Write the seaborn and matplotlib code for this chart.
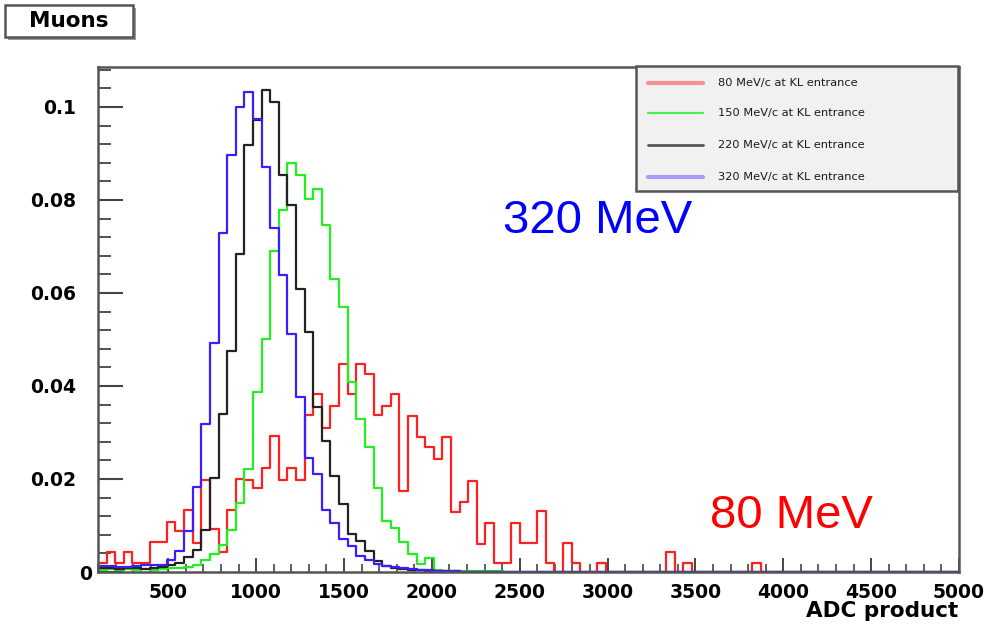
import numpy as np
import pandas as pd
import matplotlib
matplotlib.use("Agg")
import matplotlib.pyplot as plt
import seaborn as sns
from matplotlib.lines import Line2D
from matplotlib.patches import Rectangle
from matplotlib.ticker import MultipleLocator

# Binning of the ADC-product histograms: 100 bins from 100 to 5000
x_min, x_max, n_bins = 100, 5000, 100

# Normalised muon ADC-product distributions (bin contents, left to right)
mu_80 = [
    0.0019, 0.0042, 0.0019, 0.0042, 0.0019, 0.0019, 0.0065, 0.0065, 0.0108, 0.0088,
    0.0133, 0.0062, 0.0198, 0.0092, 0.0044, 0.0133, 0.0200, 0.0198, 0.0180, 0.0223,
    0.0292, 0.0198, 0.0224, 0.0198, 0.0338, 0.0382, 0.0309, 0.0358, 0.0448, 0.0383,
    0.0448, 0.0426, 0.0338, 0.0358, 0.0383, 0.0175, 0.0336, 0.0290, 0.0268, 0.0243,
    0.0290, 0.0130, 0.0150, 0.0196, 0.0060, 0.0106, 0.0019, 0.0019, 0.0106, 0.0063,
    0.0063, 0.0131, 0.0019, 0.0000, 0.0063, 0.0019, 0.0000, 0.0000, 0.0019, 0.0000,
    0.0000, 0.0000, 0.0000, 0.0000, 0.0000, 0.0000, 0.0042, 0.0000, 0.0019, 0.0000,
    0.0000, 0.0000, 0.0000, 0.0000, 0.0000, 0.0000, 0.0019, 0.0000, 0.0000, 0.0000,
    0.0000, 0.0000, 0.0000, 0.0000, 0.0000, 0.0000, 0.0000, 0.0000, 0.0000, 0.0000,
    0.0000, 0.0000, 0.0000, 0.0000, 0.0000, 0.0000, 0.0000, 0.0000, 0.0000, 0.0000,
]
mu_150 = [
    0.0004, 0.0006, 0.0005, 0.0006, 0.0004, 0.0006, 0.0005, 0.0006, 0.0008, 0.0009,
    0.0011, 0.0015, 0.0026, 0.0039, 0.0058, 0.0090, 0.0148, 0.0221, 0.0388, 0.0500,
    0.0690, 0.0778, 0.0879, 0.0853, 0.0803, 0.0823, 0.0746, 0.0631, 0.0570, 0.0408,
    0.0329, 0.0268, 0.0180, 0.0110, 0.0094, 0.0065, 0.0038, 0.0017, 0.0031, 0.0004,
    0.0003, 0.0003, 0.0002, 0.0003, 0.0002, 0.0002, 0.0002, 0.0001, 0.0001, 0.0001,
    0.0000, 0.0000, 0.0000, 0.0000, 0.0000, 0.0000, 0.0000, 0.0000, 0.0000, 0.0000,
    0.0000, 0.0000, 0.0000, 0.0000, 0.0000, 0.0000, 0.0000, 0.0000, 0.0000, 0.0000,
    0.0000, 0.0000, 0.0000, 0.0000, 0.0000, 0.0000, 0.0000, 0.0000, 0.0000, 0.0000,
    0.0000, 0.0000, 0.0000, 0.0000, 0.0000, 0.0000, 0.0000, 0.0000, 0.0000, 0.0000,
    0.0000, 0.0000, 0.0000, 0.0000, 0.0000, 0.0000, 0.0000, 0.0000, 0.0000, 0.0000,
]
mu_220 = [
    0.0008, 0.0008, 0.0006, 0.0008, 0.0008, 0.0006, 0.0008, 0.0010, 0.0014, 0.0020,
    0.0032, 0.0048, 0.0090, 0.0203, 0.0340, 0.0476, 0.0683, 0.0918, 0.0972, 0.1037,
    0.1011, 0.0853, 0.0789, 0.0609, 0.0517, 0.0354, 0.0282, 0.0207, 0.0146, 0.0081,
    0.0067, 0.0045, 0.0024, 0.0013, 0.0008, 0.0006, 0.0005, 0.0004, 0.0003, 0.0003,
    0.0002, 0.0002, 0.0001, 0.0001, 0.0000, 0.0000, 0.0000, 0.0000, 0.0000, 0.0000,
    0.0000, 0.0000, 0.0000, 0.0000, 0.0000, 0.0000, 0.0000, 0.0000, 0.0000, 0.0000,
    0.0000, 0.0000, 0.0000, 0.0000, 0.0000, 0.0000, 0.0000, 0.0000, 0.0000, 0.0000,
    0.0000, 0.0000, 0.0000, 0.0000, 0.0000, 0.0000, 0.0000, 0.0000, 0.0000, 0.0000,
    0.0000, 0.0000, 0.0000, 0.0000, 0.0000, 0.0000, 0.0000, 0.0000, 0.0000, 0.0000,
    0.0000, 0.0000, 0.0000, 0.0000, 0.0000, 0.0000, 0.0000, 0.0000, 0.0000, 0.0000,
]
mu_320 = [
    0.0012, 0.0012, 0.0010, 0.0010, 0.0012, 0.0014, 0.0014, 0.0016, 0.0025, 0.0045,
    0.0088, 0.0183, 0.0318, 0.0492, 0.0728, 0.0897, 0.1000, 0.1033, 0.0975, 0.0871,
    0.0739, 0.0638, 0.0512, 0.0376, 0.0245, 0.0210, 0.0133, 0.0105, 0.0072, 0.0056,
    0.0034, 0.0026, 0.0017, 0.0012, 0.0010, 0.0008, 0.0006, 0.0005, 0.0004, 0.0003,
    0.0002, 0.0002, 0.0001, 0.0001, 0.0000, 0.0000, 0.0000, 0.0000, 0.0000, 0.0000,
    0.0000, 0.0000, 0.0000, 0.0000, 0.0000, 0.0000, 0.0000, 0.0000, 0.0000, 0.0000,
    0.0000, 0.0000, 0.0000, 0.0000, 0.0000, 0.0000, 0.0000, 0.0000, 0.0000, 0.0000,
    0.0000, 0.0000, 0.0000, 0.0000, 0.0000, 0.0000, 0.0000, 0.0000, 0.0000, 0.0000,
    0.0000, 0.0000, 0.0000, 0.0000, 0.0000, 0.0000, 0.0000, 0.0000, 0.0000, 0.0000,
    0.0000, 0.0000, 0.0000, 0.0000, 0.0000, 0.0000, 0.0000, 0.0000, 0.0000, 0.0000,
]

series_labels = [
    "80 MeV/c at KL entrance",
    "150 MeV/c at KL entrance",
    "220 MeV/c at KL entrance",
    "320 MeV/c at KL entrance",
]
series_colors = ["#ff2020", "#22ee22", "#222222", "#3d1cff"]
legend_alpha = [0.45, 0.8, 0.75, 0.4]
legend_width = [3.0, 1.6, 2.0, 3.0]

x_ticks = [500, 1000, 1500, 2000, 2500, 3000, 3500, 4000, 4500, 5000]
y_ticks = [0.0, 0.02, 0.04, 0.06, 0.08, 0.1]
y_tick_labels = ["0", "0.02", "0.04", "0.06", "0.08", "0.1"]
y_top = 0.1086

title_text = "Muons"
x_title = "ADC product"

sns.set_style("ticks")
plt.rcParams["font.family"] = ["DejaVu Sans"]
plt.rcParams["text.color"] = "black"

W, H = 989, 627
fig = plt.figure(figsize=(W / 100, H / 100), dpi=100)
ax = fig.add_axes([98 / W, 55 / H, 861 / W, 505 / H])

bin_width = (x_max - x_min) / n_bins
edges = np.linspace(x_min, x_max, n_bins + 1)
centers = 0.5 * (edges[:-1] + edges[1:])

for vals, col in zip([mu_80, mu_150, mu_220, mu_320], series_colors):
    df = pd.DataFrame({"adc": centers, "frac": vals})
    sns.histplot(data=df, x="adc", weights="frac", binwidth=bin_width,
                 binrange=(x_min, x_max), element="step", fill=False,
                 color=col, linewidth=1.6, ax=ax)

ax.set_xlim(x_min, x_max)
ax.set_ylim(0, y_top)
ax.set_xlabel("")
ax.set_ylabel("")

ax.set_xticks(x_ticks)
ax.set_xticklabels([str(t) for t in x_ticks])
ax.xaxis.set_minor_locator(MultipleLocator(100))
ax.set_yticks(y_ticks)
# the zero label is placed separately, closer to the axis
ax.set_yticklabels([""] + y_tick_labels[1:])
ax.yaxis.set_minor_locator(MultipleLocator(0.004))

ax.tick_params(axis="both", which="both", direction="in", color="#444444",
               labelcolor="black", top=False, right=False)
ax.tick_params(axis="x", which="major", length=10, width=1.4, pad=8,
               labelsize=13.5)
ax.tick_params(axis="x", which="minor", length=5.5, width=1.2)
ax.tick_params(axis="y", which="major", length=18, width=1.5, pad=16,
               labelsize=13.5)
ax.tick_params(axis="y", which="minor", length=9.5, width=1.3)
for lab in ax.get_xticklabels() + ax.get_yticklabels():
    lab.set_fontweight("bold")

ax.annotate(y_tick_labels[0], xy=(0, y_ticks[0]),
            xycoords=("axes fraction", "data"), xytext=(-4, -2),
            textcoords="offset points", ha="right", va="center",
            fontsize=13.5, fontweight="bold", color="black",
            annotation_clip=False)

for sp in ax.spines.values():
    sp.set_color("#555555")
    sp.set_linewidth(1.8)

# Axis title at the right end of the x axis
fig.text(958 / W, 1 - 611 / H, x_title, ha="right", va="center",
         fontsize=15.5, fontweight="bold", color="black")

# Title box with drop shadow
fig.patches.append(Rectangle((8 / W, 1 - 40 / H), 128 / W, 32 / H,
                             transform=fig.transFigure, fc="#9a9a9a",
                             ec="none", zorder=1))
fig.patches.append(Rectangle((5 / W, 1 - 37 / H), 128 / W, 32 / H,
                             transform=fig.transFigure, fc="white",
                             ec="#555555", lw=1.8, zorder=2))
fig.text(69 / W, 1 - 21 / H, title_text, ha="center", va="center",
         fontsize=15.5, fontweight="bold", color="black", zorder=3)

# Legend panel
fig.patches.append(Rectangle((636 / W, 1 - 191 / H), 322 / W, 125 / H,
                             transform=fig.transFigure, fc="#f1f1f1",
                             ec="#555555", lw=1.8, zorder=2))
row_y = [83, 113, 145, 177]
for yy, lab, col, a, lw in zip(row_y, series_labels, series_colors,
                                legend_alpha, legend_width):
    fig.lines.append(Line2D([648 / W, 703 / W], [1 - yy / H, 1 - yy / H],
                            transform=fig.transFigure, color=col, alpha=a,
                            lw=lw, zorder=3))
    fig.text(718 / W, 1 - yy / H, lab, ha="left", va="center",
             fontsize=8.2, color="#1a1a1a", zorder=3)

# Beam-momentum annotations
fig.text(503 / W, 1 - 233 / H, "320 MeV", ha="left", va="baseline",
         fontsize=34, color="#0000ff", family=["Liberation Sans", "DejaVu Sans"])
fig.text(710 / W, 1 - 528 / H, "80 MeV", ha="left", va="baseline",
         fontsize=34, color="#ff0000", family=["Liberation Sans", "DejaVu Sans"])

fig.savefig("out.png", dpi=100, facecolor="white")
